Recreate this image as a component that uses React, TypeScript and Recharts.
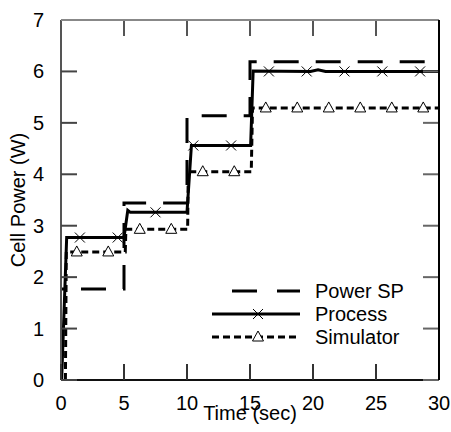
import { ComposedChart, Line, Scatter, XAxis, YAxis } from 'recharts';

// step traces (t in sec, v in W)
const spT = [0, 5, 5, 10, 10, 15, 15, 30];
const spV = [1.77, 1.77, 3.44, 3.44, 5.14, 5.14, 6.19, 6.19];

const procT = [0.05, 0.45, 5.0, 5.3, 5.5, 10.0, 10.35, 15.05, 15.25, 19.8, 20.4, 21.0, 30];
const procV = [0, 2.77, 2.77, 3.3, 3.26, 3.26, 4.56, 4.56, 6.01, 6.0, 6.03, 6.0, 6.0];

const simT = [0.35, 0.42, 5.1, 5.15, 10.05, 10.1, 15.1, 15.2, 30];
const simV = [0, 2.49, 2.49, 2.93, 2.93, 4.05, 4.05, 5.29, 5.29];

// marker positions
const procMarkT = [1.5, 4.5, 7.5, 10.5, 13.5, 16.5, 19.5, 22.5, 25.5, 28.5];
const procMarkV = [2.77, 2.77, 3.26, 4.56, 4.56, 6.0, 6.0, 6.0, 6.0, 6.0];
const simMarkT = [1.25, 3.75, 6.25, 8.75, 11.25, 13.75, 16.25, 18.75, 21.25, 23.75, 26.25, 28.75];
const simMarkV = [2.49, 2.49, 2.93, 2.93, 4.05, 4.05, 5.29, 5.29, 5.29, 5.29, 5.29, 5.29];

const xTicks = [0, 5, 10, 15, 20, 25, 30];
const yTicks = [0, 1, 2, 3, 4, 5, 6, 7];
const xDomain = [0, 30];
const yDomain = [0, 7];
const seriesNames = ['Power SP', 'Process', 'Simulator'];

const zip = (t: number[], v: number[]) => t.map((x, i) => ({ t: x, v: v[i] }));
const spData = zip(spT, spV);
const procData = zip(procT, procV);
const simData = zip(simT, simV);
const procMarks = zip(procMarkT, procMarkV);
const simMarks = zip(simMarkT, simMarkV);
// anchors for the inner tick marks and the frame, placed by the chart's scales
const xTickAnchors = xTicks.map(t => ({ t, v: yDomain[0] }));
const yTickAnchors = yTicks.map(v => ({ t: xDomain[0], v }));
const cornerAnchor = [{ t: xDomain[1], v: yDomain[1] }];

// layout
const W = 451;
const H = 432;
const MARGIN = { top: 20, right: 12, bottom: 0, left: 0 };
const XAXIS_H = 52;
const YAXIS_W = 61;
const PLOT_W = W - MARGIN.left - MARGIN.right - YAXIS_W;
const PLOT_H = H - MARGIN.top - MARGIN.bottom - XAXIS_H;
const TICK = 16;

const FONT = '"Liberation Sans", Arial, sans-serif';
const SIM_DASH = '7 4';
const SP_DASH = '25 17';
const labelFont = { fill: '#000', fontSize: 20, fontFamily: FONT };

function Cross({ cx, cy }: any) {
  const s = 5;
  return (
    <g stroke="#000" strokeWidth={1}>
      <line x1={cx - s} y1={cy - s} x2={cx + s} y2={cy + s} />
      <line x1={cx - s} y1={cy + s} x2={cx + s} y2={cy - s} />
    </g>
  );
}

function Tri({ cx, cy }: any) {
  return (
    <polygon
      points={`${cx},${cy - 6} ${cx - 5.5},${cy + 4} ${cx + 5.5},${cy + 4}`}
      fill="#fff" stroke="#000" strokeWidth={1}
    />
  );
}

// inward x tick marks, bottom and top edge
function XTickMark({ cx, cy }: any) {
  return (
    <g fill="none" strokeWidth={2}>
      <line x1={cx} x2={cx} y1={cy} y2={cy - TICK} stroke="#333" />
      <line x1={cx} x2={cx} y1={cy - PLOT_H} y2={cy - PLOT_H + TICK} stroke="#555" />
    </g>
  );
}

// inward y tick marks, left and right edge
function YTickMark({ cx, cy }: any) {
  return (
    <g fill="none" strokeWidth={2}>
      <line x1={cx} x2={cx + TICK} y1={cy} y2={cy} stroke="#444" />
      <line x1={cx + PLOT_W} x2={cx + PLOT_W - TICK} y1={cy} y2={cy} stroke="#666" />
    </g>
  );
}

// top and right frame lines from the top-right corner
function FrameCorner({ cx, cy }: any) {
  return (
    <g fill="none" strokeWidth={2}>
      <line x1={cx - PLOT_W} x2={cx} y1={cy} y2={cy} stroke="#888" />
      <line x1={cx} x2={cx} y1={cy} y2={cy + PLOT_H} stroke="#000" />
    </g>
  );
}

function XTick({ x, y, payload }: any) {
  return <text x={x} y={y + 14} textAnchor="middle" {...labelFont}>{payload.value}</text>;
}

function YTick({ x, y, payload }: any) {
  return <text x={x} y={y + 7} textAnchor="end" {...labelFont}>{payload.value}</text>;
}

const XTitle = ({ viewBox }: any) => (
  <text x={viewBox.x + viewBox.width / 2} y={viewBox.y + viewBox.height - 12}
    textAnchor="middle" {...labelFont}>Time (sec)</text>
);

const YTitle = ({ viewBox }: any) => {
  const x = viewBox.x + 25;
  const y = viewBox.y + viewBox.height / 2;
  return (
    <text x={x} y={y} transform={`rotate(-90 ${x} ${y})`} textAnchor="middle" {...labelFont}>Cell Power (W)</text>
  );
};

function LegendBox() {
  const rows = [
    { name: seriesNames[0], dash: '25 20', x1: 22, marker: null },
    { name: seriesNames[1], dash: undefined, x1: 2, marker: 'x' },
    { name: seriesNames[2], dash: SIM_DASH, x1: 2, marker: 't' },
  ];
  return (
    <svg width={200} height={72} style={{ display: 'block' }}>
      {rows.map((r, i) => {
        const y = 11 + i * 23;
        return (
          <g key={r.name}>
            <line x1={r.x1} y1={y} x2={90} y2={y} stroke="#000" strokeWidth={3} strokeDasharray={r.dash} />
            {r.marker === 'x' && <Cross cx={48} cy={y} />}
            {r.marker === 't' && <Tri cx={48} cy={y} />}
            <text x={105} y={y + 7} fontSize={20} fontFamily={FONT} fill="#000">{r.name}</text>
          </g>
        );
      })}
    </svg>
  );
}

export default function App() {
  return (
    <div style={{ position: 'absolute', left: 0, top: 0, width: W, height: H, background: '#fff' }}>
      <ComposedChart width={W} height={H} margin={MARGIN}>
        <XAxis
          xAxisId="main" dataKey="t" type="number" domain={xDomain} ticks={xTicks}
          height={XAXIS_H} axisLine={{ stroke: '#111', strokeWidth: 2 }} tickLine={false} tickMargin={10} interval={0}
          tick={<XTick />} label={{ content: <XTitle /> }}
        />
        <YAxis
          yAxisId="main" type="number" domain={yDomain} ticks={yTicks}
          width={YAXIS_W} axisLine={{ stroke: '#555', strokeWidth: 2 }} tickLine={false} tickMargin={11} interval={0}
          tick={<YTick />} label={{ content: <YTitle /> }}
        />
        <Scatter xAxisId="main" yAxisId="main" data={xTickAnchors} dataKey="v" shape={<XTickMark />} isAnimationActive={false} />
        <Scatter xAxisId="main" yAxisId="main" data={yTickAnchors} dataKey="v" shape={<YTickMark />} isAnimationActive={false} />
        <Scatter xAxisId="main" yAxisId="main" data={cornerAnchor} dataKey="v" shape={<FrameCorner />} isAnimationActive={false} />
        <Line
          xAxisId="main" yAxisId="main" data={spData} dataKey="v" type="linear"
          stroke="#000" strokeWidth={3} strokeDasharray={SP_DASH} strokeDashoffset={22}
          dot={false} activeDot={false} isAnimationActive={false} name={seriesNames[0]}
        />
        <Line
          xAxisId="main" yAxisId="main" data={simData} dataKey="v" type="linear"
          stroke="#000" strokeWidth={3} strokeDasharray={SIM_DASH}
          dot={false} activeDot={false} isAnimationActive={false} name={seriesNames[2]}
        />
        <Line
          xAxisId="main" yAxisId="main" data={procData} dataKey="v" type="linear"
          stroke="#000" strokeWidth={3}
          dot={false} activeDot={false} isAnimationActive={false} name={seriesNames[1]}
        />
        <Scatter xAxisId="main" yAxisId="main" data={procMarks} dataKey="v" shape={<Cross />} isAnimationActive={false} />
        <Scatter xAxisId="main" yAxisId="main" data={simMarks} dataKey="v" shape={<Tri />} isAnimationActive={false} />
      </ComposedChart>
      <div style={{ position: 'absolute', left: 210, top: 280 }}>
        <LegendBox />
      </div>
    </div>
  );
}
